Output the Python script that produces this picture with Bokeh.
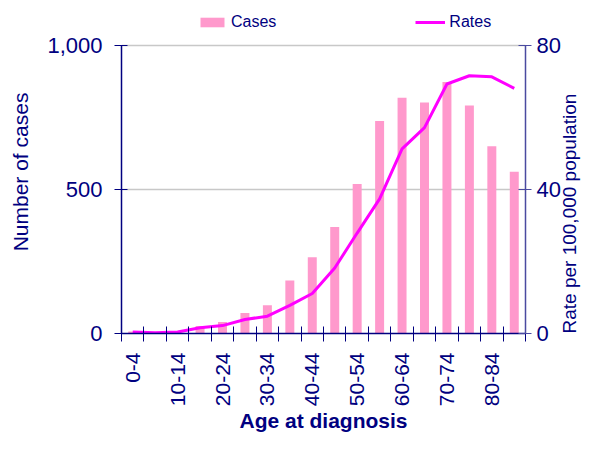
import math
from bokeh.plotting import figure
from bokeh.models import (Range1d, LinearAxis, FixedTicker, NumeralTickFormatter,
                          Legend, LegendItem, ColumnDataSource)
from bokeh.embed import file_html
from bokeh.resources import INLINE

age_groups = ["0-4", "5-9", "10-14", "15-19", "20-24", "25-29", "30-34", "35-39",
              "40-44", "45-49", "50-54", "55-59", "60-64", "65-69", "70-74",
              "75-79", "80-84", "85+"]
cases = [7, 2, 3, 26, 40, 71, 98, 184, 265, 370, 519, 738, 819, 802, 873, 792, 650, 562]
rates = [0.4, 0.2, 0.4, 1.6, 2.2, 3.9, 4.8, 7.8, 11.1, 18.2, 27.9, 37.4, 51.3, 57.2,
         69.3, 71.6, 71.3, 68.1]
left_ticks = [0, 500, 1000]
right_ticks = [0, 40, 80]
cases_max = 1000
rates_max = 80

NAVY = "#000080"
FONT = "Liberation Sans"
HEADROOM = 323 / 288   # blank band above the axes that holds the legend

n = len(age_groups)
centers = [i + 0.5 for i in range(n)]
src = ColumnDataSource(dict(x=centers, cases=cases, rates=rates, age=age_groups))

p = figure(width=593, height=436, output_backend="svg", toolbar_location=None,
           x_range=Range1d(0, n), y_range=Range1d(0, cases_max * HEADROOM),
           min_border_left=121, min_border_right=60, min_border_top=10,
           min_border_bottom=103, outline_line_color=None)
p.extra_y_ranges = {"rate": Range1d(0, rates_max * HEADROOM)}

bars = p.vbar(x="x", top="cases", width=0.4, source=src,
              fill_color="#FF99CC", line_color=None)
line = p.line(x="x", y="rates", source=src, y_range_name="rate",
              line_color="#FF00FF", line_width=3)

# x axis
xa = p.xaxis[0]
label_pos = [centers[i] for i in range(0, n, 2)]
xa.ticker = FixedTicker(ticks=label_pos, minor_ticks=list(range(n + 1)))
xa.major_label_overrides = {centers[i]: age_groups[i] for i in range(0, n, 2)}
xa.major_label_orientation = math.pi / 2
xa.major_tick_in = 0
xa.major_tick_out = 8
xa.major_tick_line_color = None
xa.minor_tick_in = 7
xa.minor_tick_out = 8
xa.minor_tick_line_color = NAVY
xa.axis_line_color = NAVY
xa.axis_line_width = 1.5
xa.major_label_standoff = 11
xa.major_label_text_font = FONT
xa.major_label_text_font_size = "21px"
xa.major_label_text_color = NAVY
xa.axis_label = "Age at diagnosis"
xa.axis_label_text_font = FONT
xa.axis_label_text_font_size = "21px"
xa.axis_label_text_font_style = "bold"
xa.axis_label_text_color = NAVY
xa.axis_label_standoff = 0

# left axis
ya = p.yaxis[0]
ya.bounds = (0, cases_max)
ya.ticker = FixedTicker(ticks=left_ticks)
ya.formatter = NumeralTickFormatter(format="0,0")
ya.major_tick_in = 6
ya.major_tick_out = 7
ya.minor_tick_line_color = None
ya.major_tick_line_color = NAVY
ya.axis_line_color = NAVY
ya.axis_line_width = 1.5
ya.major_label_standoff = 12
ya.major_label_text_font = FONT
ya.major_label_text_font_size = "22px"
ya.major_label_text_color = NAVY
ya.axis_label = "Number of cases"
ya.axis_label_text_font = FONT
ya.axis_label_text_font_size = "21px"
ya.axis_label_text_font_style = "normal"
ya.axis_label_text_color = NAVY
ya.axis_label_standoff = 12

# right axis
ra = LinearAxis(y_range_name="rate", ticker=FixedTicker(ticks=right_ticks),
                bounds=(0, rates_max))
ra.major_tick_in = 7
ra.major_tick_out = 6
ra.minor_tick_line_color = None
ra.major_tick_line_color = "#4a4aa0"
ra.axis_line_color = "#4a4aa0"
ra.axis_line_width = 1.5
ra.major_label_standoff = 5
ra.major_label_text_font = FONT
ra.major_label_text_font_size = "22px"
ra.major_label_text_color = NAVY
ra.axis_label = "Rate per 100,000 population"
ra.axis_label_text_font = FONT
ra.axis_label_text_font_size = "19px"
ra.axis_label_text_font_style = "normal"
ra.axis_label_text_color = NAVY
ra.axis_label_standoff = 6
try:
    ra.axis_label_orientation = math.pi / 2
except Exception:
    pass
try:
    ra.axis_label_align = "start"
except Exception:
    pass
p.add_layout(ra, "right")

# grid
p.xgrid.grid_line_color = None
p.ygrid.ticker = FixedTicker(ticks=left_ticks[1:])
p.ygrid.grid_line_color = "#c8c8c8"
p.ygrid.grid_line_width = 1.5

legend = Legend(items=[LegendItem(label="Cases", renderers=[bars]),
                       LegendItem(label="Rates", renderers=[line])],
                orientation="horizontal", location=(76, 302),
                glyph_width=30, glyph_height=12, label_standoff=4,
                spacing=139, padding=0, margin=0,
                label_text_font=FONT, label_text_font_size="16px",
                label_text_color=NAVY, border_line_color=None,
                background_fill_alpha=0)
p.add_layout(legend, "center")

open("out.html", "w").write(file_html(p, INLINE))
